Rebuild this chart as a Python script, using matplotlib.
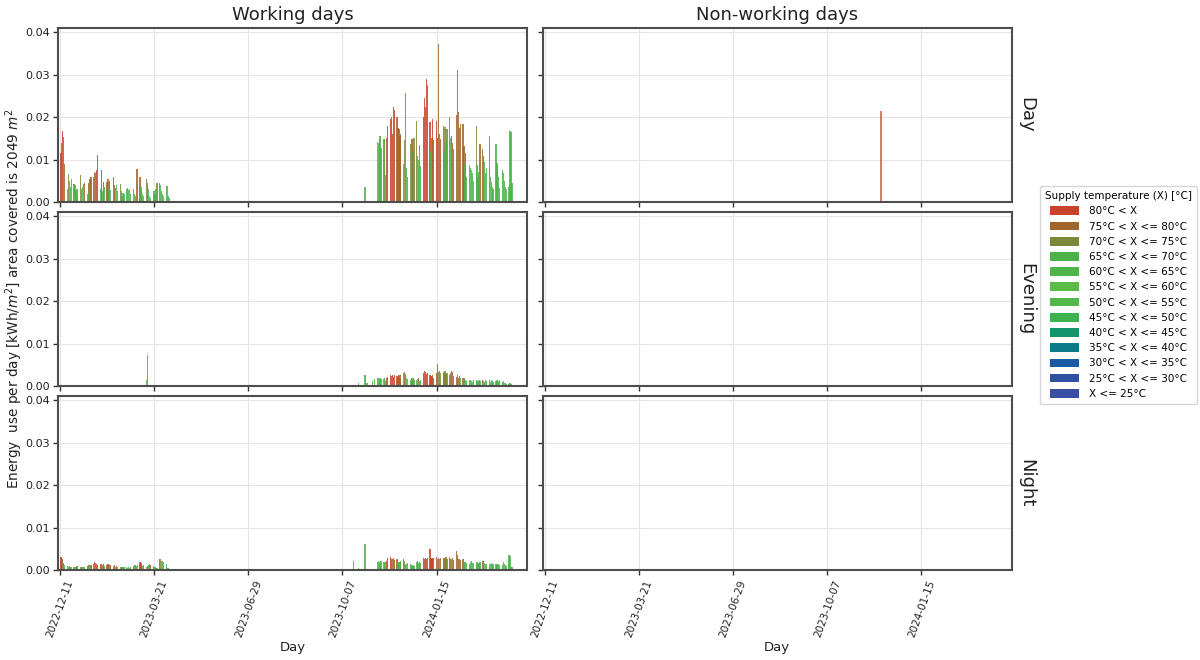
import numpy as np
import pandas as pd
import matplotlib
matplotlib.use("Agg")
import matplotlib.pyplot as plt
import matplotlib.dates as mdates
from matplotlib.patches import Patch

# ---- supply temperature bins -------------------------------------------
temp_labels = [
    "80°C < X", "75°C < X <= 80°C", "70°C < X <= 75°C", "65°C < X <= 70°C",
    "60°C < X <= 65°C", "55°C < X <= 60°C", "50°C < X <= 55°C",
    "45°C < X <= 50°C", "40°C < X <= 45°C", "35°C < X <= 40°C",
    "30°C < X <= 35°C", "25°C < X <= 30°C", "X <= 25°C",
]
temp_colors = [
    "#c8432a", "#a0652a", "#7b8a38", "#4bb24a", "#4fb54b", "#5abb47",
    "#52b848", "#3db350", "#14946a", "#0c7a88", "#1c5aa6", "#2f4fa0", "#3a4fa3",
]
# bin codes used in the daily series below
bin_code = {"R": 0, "B": 1, "O": 2, "G": 3}

row_names = ["Day", "Evening", "Night"]
col_names = ["Working days", "Non-working days"]

# ---- working days, heating season 2022/23 (from Mon 2022-12-12) ---------
season1_start = "2022-12-12"
day_s1_vals = [
    0.0115, 0.0140, 0.0168, 0.0153, 0.0090,
    0.0030, 0.0065, 0.0050, 0.0035, 0.0055,
    0.0043, 0.0040, 0.0025, 0.0030, 0.0020,
    0.0063, 0.0030, 0.0035, 0.0042, 0.0045,
    0.0020, 0.0045, 0.0022, 0.0055, 0.0060,
    0.0060, 0.0070, 0.0068, 0.0075, 0.0110,
    0.0030, 0.0075, 0.0025, 0.0048, 0.0035,
    0.0048, 0.0055, 0.0030, 0.0050, 0.0028,
    0.0058, 0.0040, 0.0032, 0.0040, 0.0025,
    0.0042, 0.0025, 0.0015, 0.0022, 0.0018,
    0.0030, 0.0033, 0.0028, 0.0030, 0.0018,
    0.0030, 0.0020, 0.0015, 0.0078, 0.0078,
    0.0060, 0.0035, 0.0025, 0.0020, 0.0015,
    0.0055, 0.0045, 0.0030, 0.0015, 0.0010,
    0.0020, 0.0025, 0.0018, 0.0030, 0.0045,
    0.0045, 0.0040, 0.0025, 0.0020, 0.0015,
    0.0037, 0.0037, 0.0015, 0.0010, 0.0000,
]
day_s1_bins = ("RBRBB" "GOGGG" "OGGGG" "OGGGB" "GBGBB" "BBBRR" "GRGBG" "BBGBG"
               "BBGGG" "OGGGG" "GOGGG" "GGGBB" "BGGGG" "OBGGG" "GGGGO" "OGGGG" "GGGGG")

night_s1_vals = [
    0.0031, 0.0028, 0.0025, 0.0016, 0.0012,
    0.0010, 0.0008, 0.0009, 0.0007, 0.0008,
    0.0006, 0.0008, 0.0007, 0.0009, 0.0006,
    0.0007, 0.0008, 0.0006, 0.0008, 0.0007,
    0.0010, 0.0008, 0.0012, 0.0009, 0.0011,
    0.0015, 0.0018, 0.0016, 0.0014, 0.0012,
    0.0015, 0.0013, 0.0012, 0.0014, 0.0010,
    0.0012, 0.0013, 0.0011, 0.0009, 0.0012,
    0.0010, 0.0011, 0.0008, 0.0010, 0.0007,
    0.0008, 0.0006, 0.0008, 0.0007, 0.0006,
    0.0006, 0.0005, 0.0007, 0.0004, 0.0006,
    0.0010, 0.0012, 0.0011, 0.0010, 0.0012,
    0.0018, 0.0016, 0.0012, 0.0010, 0.0011,
    0.0008, 0.0010, 0.0012, 0.0014, 0.0012,
    0.0010, 0.0008, 0.0006, 0.0004, 0.0005,
    0.0027, 0.0025, 0.0020, 0.0022, 0.0018,
    0.0015, 0.0005, 0.0004, 0.0003, 0.0002,
]
night_s1_bins = ("RRBBG" "GGBGG" "GGGBG" "GBGGG" "BGBGB" "BRBRB" "RBBRG" "BRBGB"
                 "GBGBG" "GGBGG" "GGGGG" "BGBGG" "RRBGB" "GBGBR" "GGGGG" "BOGGG" "GGGGG")

# evening use in season 2022/23 only on two days
evening_s1_dates = ["2023-03-13", "2023-03-14"]
evening_s1_vals = [0.0015, 0.0072]
evening_s1_bins = "GG"

# ---- working days, heating season 2023/24 (from Mon 2023-11-13) ---------
season2_start = "2023-11-13"
day_s2_vals = [
    0.0142, 0.0138, 0.0150, 0.0156, 0.0128,
    0.0148, 0.0145, 0.0064, 0.0150, 0.0180,
    0.0196, 0.0200, 0.0160, 0.0224, 0.0216,
    0.0200, 0.0175, 0.0172, 0.0155, 0.0160,
    0.0090, 0.0145, 0.0258, 0.0080, 0.0060,
    0.0136, 0.0110, 0.0148, 0.0120, 0.0152,
    0.0192, 0.0108, 0.0100, 0.0135, 0.0085,
    0.0200, 0.0244, 0.0225, 0.0290, 0.0276,
    0.0188, 0.0120, 0.0150, 0.0196, 0.0145,
    0.0192, 0.0150, 0.0372, 0.0160, 0.0148,
    0.0180, 0.0120, 0.0176, 0.0140, 0.0172,
    0.0200, 0.0150, 0.0156, 0.0140, 0.0125,
    0.0204, 0.0312, 0.0212, 0.0175, 0.0184,
    0.0184, 0.0132, 0.0090, 0.0116, 0.0060,
    0.0088, 0.0080, 0.0075, 0.0068, 0.0050,
    0.0180, 0.0088, 0.0060, 0.0070, 0.0136,
    0.0124, 0.0108, 0.0095, 0.0068, 0.0080,
    0.0156, 0.0060, 0.0048, 0.0036, 0.0030,
    0.0136, 0.0092, 0.0084, 0.0060, 0.0032,
    0.0076, 0.0068, 0.0050, 0.0036, 0.0030,
    0.0036, 0.0168, 0.0165, 0.0044, 0.0000,
]
day_s2_bins = ("GGGGG" "OGGRR" "RRRRR" "BRBBB" "GOOGG" "OGBOO" "OGGOG" "RRRRR"
               "RGBRR" "RRBBR" "OGOGO" "OGBBB" "BBBBB" "BBGBG" "GGGGG" "OGGGB"
               "BBGGG" "OGGGG" "GGGGG" "GGGGG" "GGGGG")

evening_s2_vals = [
    0.0018, 0.0020, 0.0015, 0.0019, 0.0016,
    0.0017, 0.0020, 0.0012, 0.0018, 0.0022,
    0.0025, 0.0024, 0.0026, 0.0022, 0.0025,
    0.0024, 0.0022, 0.0026, 0.0020, 0.0025,
    0.0030, 0.0033, 0.0028, 0.0018, 0.0016,
    0.0015, 0.0020, 0.0012, 0.0018, 0.0015,
    0.0014, 0.0016, 0.0018, 0.0012, 0.0015,
    0.0030, 0.0035, 0.0033, 0.0028, 0.0030,
    0.0026, 0.0024, 0.0022, 0.0027, 0.0020,
    0.0030, 0.0052, 0.0032, 0.0035, 0.0030,
    0.0034, 0.0030, 0.0036, 0.0028, 0.0030,
    0.0026, 0.0030, 0.0035, 0.0032, 0.0024,
    0.0022, 0.0025, 0.0020, 0.0024, 0.0018,
    0.0020, 0.0016, 0.0018, 0.0014, 0.0012,
    0.0013, 0.0015, 0.0012, 0.0010, 0.0014,
    0.0015, 0.0012, 0.0010, 0.0013, 0.0011,
    0.0014, 0.0012, 0.0010, 0.0015, 0.0012,
    0.0013, 0.0010, 0.0014, 0.0012, 0.0010,
    0.0011, 0.0014, 0.0010, 0.0012, 0.0013,
    0.0010, 0.0012, 0.0008, 0.0006, 0.0005,
    0.0004, 0.0006, 0.0005, 0.0003, 0.0000,
]
evening_s2_bins = ("GGGGG" "GGGRR" "RRRRR" "RBRBB" "OBOGG" "GBGOG" "GGBGG" "RRRRR"
                   "RRBRR" "BBOBO" "OBOBO" "BBBBB" "BBBBG" "BGBGG" "GGGGG" "GGGGG"
                   "BGGGG" "GGGGG" "GGGGG" "GGGGG" "GGGGG")

night_s2_vals = [
    0.0019, 0.0020, 0.0018, 0.0017, 0.0020,
    0.0018, 0.0016, 0.0019, 0.0022, 0.0028,
    0.0030, 0.0027, 0.0025, 0.0028, 0.0024,
    0.0025, 0.0018, 0.0016, 0.0019, 0.0022,
    0.0027, 0.0022, 0.0015, 0.0014, 0.0016,
    0.0015, 0.0012, 0.0010, 0.0011, 0.0010,
    0.0018, 0.0020, 0.0016, 0.0019, 0.0017,
    0.0028, 0.0026, 0.0029, 0.0025, 0.0028,
    0.0050, 0.0027, 0.0029, 0.0025, 0.0028,
    0.0030, 0.0027, 0.0029, 0.0026, 0.0028,
    0.0025, 0.0029, 0.0027, 0.0030, 0.0026,
    0.0030, 0.0026, 0.0025, 0.0028, 0.0024,
    0.0045, 0.0036, 0.0026, 0.0025, 0.0023,
    0.0025, 0.0018, 0.0016, 0.0019, 0.0017,
    0.0015, 0.0018, 0.0020, 0.0016, 0.0017,
    0.0015, 0.0019, 0.0016, 0.0014, 0.0018,
    0.0022, 0.0020, 0.0016, 0.0015, 0.0014,
    0.0015, 0.0013, 0.0016, 0.0012, 0.0014,
    0.0015, 0.0013, 0.0012, 0.0014, 0.0011,
    0.0012, 0.0018, 0.0014, 0.0011, 0.0010,
    0.0035, 0.0033, 0.0008, 0.0006, 0.0000,
]
night_s2_bins = ("GGGGG" "GGGRR" "RRBRB" "BGGGB" "BOGGG" "GGGGG" "GBGBG" "RRRRR"
                 "RRRRR" "BOBOB" "OBOBO" "BBOBB" "BBBBB" "BGGGG" "GGGGG" "GGGGG"
                 "BBGGG" "GGGGG" "GGGGG" "GGGGG" "GGGGG")

# isolated days before the 2023/24 season started
early_day_dates = ["2023-10-19", "2023-10-25", "2023-10-31"]
early_day_vals = [0.0003, 0.0003, 0.0036]
early_evening_dates = ["2023-10-24", "2023-10-31", "2023-11-02", "2023-11-08", "2023-11-10"]
early_evening_vals = [0.0007, 0.0027, 0.0006, 0.0012, 0.0016]
early_night_dates = ["2023-10-19", "2023-10-24", "2023-10-31", "2023-11-02"]
early_night_vals = [0.0020, 0.0004, 0.0062, 0.0003]

# ---- non-working days ----------------------------------------------------
offday_day_dates = ["2023-12-03"]
offday_day_vals = [0.0214]
offday_day_bins = "R"

# ---- axis settings -------------------------------------------------------
tick_dates = pd.date_range("2022-12-11", periods=5, freq="100D")
x_start = pd.Timestamp("2022-12-11") - pd.Timedelta(days=2.1)
x_end = pd.Timestamp("2022-12-11") + pd.Timedelta(days=495.8)
y_max = 0.0410

plt.rcParams["font.family"] = ["DejaVu Sans"]


def business_days(start, n):
    return pd.bdate_range(start, periods=n)


def draw(ax, dates, vals, bins, alpha=0.85, width=1.35):
    dates = pd.DatetimeIndex(pd.to_datetime(dates))
    vals = np.asarray(vals, dtype=float)
    codes = np.array([bin_code[c] for c in bins])
    for k in np.unique(codes):
        m = codes == k
        ax.bar(dates[m].to_pydatetime(), vals[m], width=width,
               color=temp_colors[k], alpha=alpha, linewidth=0, align="center")


fig, axes = plt.subplots(3, 2, figsize=(12, 6.6), dpi=100, sharex=True, sharey=True)
fig.subplots_adjust(left=0.0483, right=0.843, bottom=0.1364, top=0.9576,
                    wspace=0.034, hspace=0.057)

d1 = business_days(season1_start, len(day_s1_vals))
d2 = business_days(season2_start, len(day_s2_vals))

draw(axes[0, 0], d1, day_s1_vals, day_s1_bins)
draw(axes[0, 0], d2, day_s2_vals, day_s2_bins)
draw(axes[0, 0], early_day_dates, early_day_vals, "G" * len(early_day_vals))

draw(axes[1, 0], evening_s1_dates, evening_s1_vals, evening_s1_bins)
draw(axes[1, 0], d2, evening_s2_vals, evening_s2_bins)
draw(axes[1, 0], early_evening_dates, early_evening_vals, "G" * len(early_evening_vals))

draw(axes[2, 0], d1, night_s1_vals, night_s1_bins)
draw(axes[2, 0], d2, night_s2_vals, night_s2_bins)
draw(axes[2, 0], early_night_dates, early_night_vals, "G" * len(early_night_vals))

draw(axes[0, 1], offday_day_dates, offday_day_vals, offday_day_bins, alpha=0.7, width=1.8)

spine_col = "#4d4d4d"
for ax in axes.flat:
    ax.set_xlim(x_start, x_end)
    ax.set_ylim(0, y_max)
    ax.set_yticks([0.0, 0.01, 0.02, 0.03, 0.04])
    ax.yaxis.set_major_formatter(matplotlib.ticker.FormatStrFormatter("%.2f"))
    ax.set_xticks(tick_dates)
    ax.xaxis.set_major_formatter(mdates.DateFormatter("%Y-%m-%d"))
    ax.grid(True, color="#e6e6e6", linewidth=0.8)
    ax.set_axisbelow(True)
    for s in ax.spines.values():
        s.set_color(spine_col)
        s.set_linewidth(1.5)
    ax.tick_params(axis="both", colors="#333333", length=3.5,
                   width=1.0, labelcolor="#222222")
    ax.tick_params(axis="y", labelsize=8, pad=2.5)
    ax.tick_params(axis="x", labelsize=7.5, pad=2.5)

for ax in axes[2, :]:
    for lab in ax.get_xticklabels():
        lab.set_rotation(70)
        lab.set_ha("center")
    ax.set_xlabel("Day", fontsize=9.5, color="#222222", labelpad=2)

for j, name in enumerate(col_names):
    axes[0, j].set_title(name, fontsize=13, color="#222222", pad=6)

for i, name in enumerate(row_names):
    axes[i, 1].annotate(name, xy=(1.012, 0.5), xycoords="axes fraction",
                        rotation=-90, va="center", ha="left", fontsize=13,
                        color="#222222")

fig.text(0.0115, 0.547,
         "Energy  use per day [kWh/$m^2$] area covered is 2049 $m^2$",
         rotation=90, va="center", ha="center", fontsize=9.8, color="#222222")

handles = [Patch(facecolor=c, edgecolor="none", label=l)
           for c, l in zip(temp_colors, temp_labels)]
leg = fig.legend(handles=handles, title="Supply temperature (X) [°C]",
                 loc="center left", bbox_to_anchor=(0.862, 0.553),
                 fontsize=7.5, title_fontsize=7.5, frameon=True,
                 handlelength=2.8, handleheight=0.9, labelspacing=0.5,
                 borderpad=0.5, handletextpad=0.9)
leg.get_frame().set_edgecolor("#cccccc")

fig.savefig("out.png", dpi=100)
